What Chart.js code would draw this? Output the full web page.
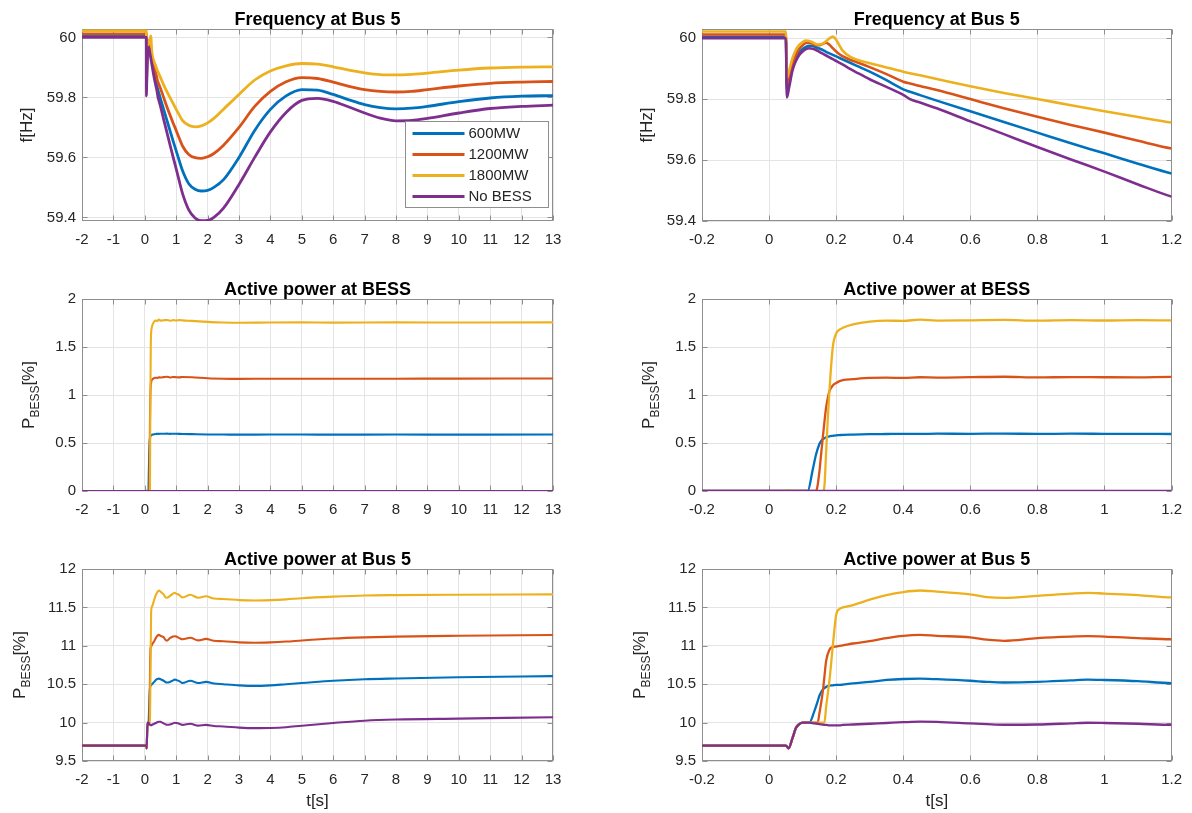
<!DOCTYPE html>
<html>
<head>
<meta charset="utf-8">
<script src="https://cdn.jsdelivr.net/npm/chart.js@4/dist/chart.umd.min.js"></script>
<style>
  html, body { margin: 0; padding: 0; background: #fff; }
  #fig { position: relative; width: 1192px; height: 813px; overflow: hidden; background: #fff; }
  #fig canvas { position: absolute; }
</style>
</head>
<body>
<div id="fig"></div>
<script>
// ---------------- series ----------------
const seriesNames  = ['600MW', '1200MW', '1800MW', 'No BESS'];
const seriesColors = ['#0072BD', '#D95319', '#EDB120', '#7E2F8E'];

// ---------------- frequency at bus 5 [Hz] ----------------
const tFreq = [
  -2, 0.05, 0.053, 0.06, 0.07, 0.08, 0.09, 0.1, 0.11, 0.12,
  0.13, 0.14, 0.15, 0.16, 0.17, 0.18, 0.19, 0.2, 0.21, 0.22,
  0.24, 0.26, 0.3, 0.35, 0.4, 0.42, 0.45, 0.5, 0.6, 0.7,
  0.8, 0.9, 1.0, 1.1, 1.2, 1.4, 1.6, 1.8, 2.0, 2.2,
  2.5, 3.0, 3.5, 4.0, 4.5, 5.0, 5.5, 6.0, 6.5, 7.0,
  7.5, 8.0, 8.5, 9.0, 10, 11, 12, 13
];
const freq600 = [
  60.004, 60.004, 59.83, 59.86, 59.905, 59.935, 59.953, 59.964, 59.971, 59.975,
  59.974, 59.97, 59.966, 59.961, 59.955, 59.95, 59.945, 59.94, 59.935, 59.93,
  59.92, 59.91, 59.89, 59.862, 59.832, 59.824, 59.813, 59.795, 59.76, 59.725,
  59.69, 59.655, 59.622, 59.588, 59.556, 59.512, 59.494, 59.488, 59.49, 59.50,
  59.525, 59.60, 59.69, 59.76, 59.805, 59.826, 59.824, 59.81, 59.792, 59.776,
  59.766, 59.762, 59.764, 59.77, 59.786, 59.798, 59.804, 59.806
];
const freq1200 = [
  60.012, 60.012, 59.85, 59.875, 59.915, 59.945, 59.965, 59.977, 59.984, 59.985,
  59.981, 59.977, 59.977, 59.981, 59.985, 59.978, 59.967, 59.956, 59.947, 59.94,
  59.93, 59.922, 59.905, 59.882, 59.857, 59.851, 59.843, 59.83, 59.80, 59.77,
  59.742, 59.715, 59.69, 59.663, 59.638, 59.61, 59.599, 59.597, 59.602, 59.613,
  59.64, 59.70, 59.77, 59.82, 59.852, 59.866, 59.863, 59.851, 59.837, 59.826,
  59.82, 59.818, 59.82, 59.826, 59.838, 59.847, 59.851, 59.853
];
const freq1800 = [
  60.022, 60.022, 59.87, 59.895, 59.935, 59.962, 59.978, 59.987, 59.992, 59.991,
  59.986, 59.98, 59.979, 59.982, 59.99, 59.999, 60.005, 59.995, 59.975, 59.958,
  59.94, 59.93, 59.918, 59.904, 59.89, 59.885, 59.878, 59.866, 59.842, 59.82,
  59.80, 59.78, 59.76, 59.741, 59.723, 59.707, 59.702, 59.705, 59.715, 59.73,
  59.76, 59.81, 59.858, 59.888, 59.905, 59.913, 59.911, 59.902, 59.891, 59.882,
  59.876, 59.875, 59.877, 59.881, 59.891, 59.898, 59.901, 59.902
];
const freqNoBess = [
  60.0, 60.0, 59.805, 59.84, 59.895, 59.925, 59.945, 59.956, 59.964, 59.967,
  59.965, 59.961, 59.955, 59.949, 59.943, 59.937, 59.931, 59.925, 59.919, 59.913,
  59.9, 59.888, 59.865, 59.84, 59.814, 59.80, 59.789, 59.77, 59.727, 59.685,
  59.643, 59.602, 59.562, 59.52, 59.48, 59.425, 59.398, 59.389, 59.39, 59.40,
  59.43, 59.51, 59.60, 59.685, 59.75, 59.79, 59.797, 59.787, 59.768, 59.748,
  59.731, 59.722, 59.723, 59.73, 59.748, 59.763, 59.77, 59.774
];

// ---------------- active power at BESS [%] ----------------
const tBess = [
  -2, 0.05, 0.06, 0.07, 0.1, 0.115, 0.13, 0.14, 0.15, 0.155,
  0.16, 0.165, 0.17, 0.175, 0.18, 0.19, 0.2, 0.21, 0.22, 0.25,
  0.3, 0.35, 0.4, 0.45, 0.5, 0.6, 0.7, 0.8, 0.9, 1.0,
  1.1, 1.2, 1.5, 2, 2.5, 3, 4, 5, 6, 8,
  10, 13
];
const bess600 = [
  0, 0, 0, 0, 0, 0, 0.22, 0.38, 0.49, 0.52,
  0.54, 0.55, 0.56, 0.565, 0.57, 0.575, 0.58, 0.582, 0.585, 0.588,
  0.592, 0.594, 0.596, 0.595, 0.597, 0.596, 0.598, 0.595, 0.597, 0.596,
  0.595, 0.594, 0.592, 0.589, 0.588, 0.587, 0.588, 0.588, 0.587, 0.588,
  0.587, 0.588
];
const bess1200 = [
  0, 0, 0, 0, 0, 0, 0, 0, 0.2, 0.38,
  0.55, 0.72, 0.87, 0.97, 1.04, 1.1, 1.125, 1.145, 1.155, 1.165,
  1.178, 1.18, 1.178, 1.185, 1.182, 1.186, 1.19, 1.183, 1.187, 1.185,
  1.184, 1.188, 1.185, 1.175, 1.17, 1.168, 1.17, 1.17, 1.169, 1.17,
  1.171, 1.172
];
const bess1800 = [
  -0.012, -0.012, 0.008, -0.012, -0.012, -0.012, -0.012, -0.012, -0.012, -0.012,
  -0.012, 0.05, 0.4, 0.75, 1.05, 1.5, 1.64, 1.68, 1.7, 1.735,
  1.765, 1.775, 1.772, 1.785, 1.775, 1.778, 1.782, 1.774, 1.78, 1.776,
  1.78, 1.777, 1.772, 1.762, 1.755, 1.752, 1.755, 1.756, 1.754, 1.756,
  1.755, 1.756
];
const bessNoBess = [
  0, 0, 0, 0, 0, 0, 0, 0, 0, 0,
  0, 0, 0, 0, 0, 0, 0, 0, 0, 0,
  0, 0, 0, 0, 0, 0, 0, 0, 0, 0,
  0, 0, 0, 0, 0, 0, 0, 0, 0, 0,
  0, 0
];

// ---------------- active power at bus 5 [%] ----------------
const tBus = [
  -2, 0.05, 0.058, 0.07, 0.08, 0.09, 0.1, 0.12, 0.135, 0.145,
  0.15, 0.16, 0.165, 0.17, 0.18, 0.19, 0.2, 0.21, 0.22, 0.25,
  0.3, 0.35, 0.4, 0.45, 0.5, 0.6, 0.65, 0.7, 0.8, 0.9,
  0.95, 1.0, 1.1, 1.2, 1.45, 1.7, 1.95, 2.2, 2.5, 3,
  3.5, 4, 4.5, 5, 6, 7, 8, 10, 13
];
const bus600 = [
  9.70, 9.70, 9.665, 9.80, 9.93, 9.98, 10.00, 10.00, 10.15, 10.28,
  10.35, 10.43, 10.45, 10.465, 10.48, 10.485, 10.49, 10.49, 10.495, 10.51,
  10.53, 10.555, 10.568, 10.572, 10.565, 10.545, 10.53, 10.522, 10.53, 10.55,
  10.56, 10.555, 10.54, 10.515, 10.545, 10.515, 10.53, 10.51, 10.50, 10.485,
  10.478, 10.485, 10.50, 10.515, 10.545, 10.565, 10.575, 10.59, 10.605
];
const bus1200 = [
  9.70, 9.70, 9.665, 9.80, 9.93, 9.98, 10.00, 10.00, 10.00, 10.00,
  10.12, 10.4, 10.6, 10.8, 10.95, 10.985, 10.99, 11.0, 11.005, 11.03,
  11.06, 11.1, 11.13, 11.142, 11.13, 11.11, 11.08, 11.065, 11.1, 11.12,
  11.125, 11.12, 11.10, 11.085, 11.105, 11.07, 11.09, 11.065, 11.06, 11.045,
  11.04, 11.045, 11.055, 11.07, 11.095, 11.11, 11.12, 11.13, 11.14
];
const bus1800 = [
  9.70, 9.70, 9.665, 9.80, 9.93, 9.98, 10.00, 10.00, 10.00, 10.00,
  10.00, 10.00, 10.00, 10.2, 10.55, 11.0, 11.4, 11.48, 11.5, 11.53,
  11.6, 11.66, 11.7, 11.72, 11.705, 11.67, 11.635, 11.625, 11.65, 11.68,
  11.69, 11.68, 11.66, 11.63, 11.665, 11.625, 11.645, 11.615, 11.61, 11.595,
  11.59, 11.595, 11.605, 11.62, 11.64, 11.655, 11.66, 11.665, 11.67
];
const busNoBess = [
  9.70, 9.70, 9.665, 9.80, 9.93, 9.98, 10.00, 10.00, 9.99, 9.985,
  9.98, 9.975, 9.97, 9.97, 9.965, 9.965, 9.965, 9.965, 9.97, 9.975,
  9.985, 9.995, 10.005, 10.012, 10.01, 9.99, 9.98, 9.972, 9.975, 9.99,
  9.998, 9.995, 9.985, 9.97, 9.985, 9.96, 9.97, 9.955, 9.95, 9.935,
  9.928, 9.93, 9.94, 9.96, 9.995, 10.025, 10.04, 10.052, 10.07
];

// ---------------- tick labels ----------------
const ticksLongTime  = [-2, -1, 0, 1, 2, 3, 4, 5, 6, 7, 8, 9, 10, 11, 12, 13];
const ticksShortTime = [-0.2, 0, 0.2, 0.4, 0.6, 0.8, 1, 1.2];
const ticksFreq = [59.4, 59.6, 59.8, 60];
const ticksBess = [0, 0.5, 1, 1.5, 2];
const ticksBus  = [9.5, 10, 10.5, 11, 11.5, 12];

// ---------------- figure layout ----------------
const FONT = "'Liberation Sans', Arial, Helvetica, sans-serif";
const colX = [0, 596], colW = 596;
const plotLeftIn = [82, 106];     // y-axis band width inside each column canvas
const padRight = [43, 19];
const rowY = [0, 270, 540], rowH = [270, 270, 273];
const padTop = 29, plotH = 192;
const gridColor = '#e4e4e4', boxColor = '#8e8e8e', textColor = '#262626';
const tickFontSize = 15, labelFontSize = 17, titleFontSize = 18, legendFontSize = 15;

const labelF = { main: 'f[Hz]' };
const labelP = { main: 'P', sub: 'BESS', tail: '[%]' };

const panels = [
  { col: 0, row: 0, title: 'Frequency at Bus 5', ylabel: labelF, t: tFreq,
    v: [freq600, freq1200, freq1800, freqNoBess], xr: [-2, 13], xt: ticksLongTime,
    yr: [59.388, 60.028], yt: ticksFreq, lw: 2.8, legend: true },
  { col: 1, row: 0, title: 'Frequency at Bus 5', ylabel: labelF, t: tFreq,
    v: [freq600, freq1200, freq1800, freqNoBess], xr: [-0.2, 1.2], xt: ticksShortTime,
    yr: [59.4, 60.03], yt: ticksFreq, lw: 2.6 },
  { col: 0, row: 1, title: 'Active power at BESS', ylabel: labelP, t: tBess,
    v: [bess600, bess1200, bess1800, bessNoBess], xr: [-2, 13], xt: ticksLongTime,
    yr: [0, 2], yt: ticksBess, lw: 2.1 },
  { col: 1, row: 1, title: 'Active power at BESS', ylabel: labelP, t: tBess,
    v: [bess600, bess1200, bess1800, bessNoBess], xr: [-0.2, 1.2], xt: ticksShortTime,
    yr: [0, 2], yt: ticksBess, lw: 2.3 },
  { col: 0, row: 2, title: 'Active power at Bus 5', ylabel: labelP, xlabel: 't[s]', t: tBus,
    v: [bus600, bus1200, bus1800, busNoBess], xr: [-2, 13], xt: ticksLongTime,
    yr: [9.5, 12], yt: ticksBus, lw: 2.1 },
  { col: 1, row: 2, title: 'Active power at Bus 5', ylabel: labelP, xlabel: 't[s]', t: tBus,
    v: [bus600, bus1200, bus1800, busNoBess], xr: [-0.2, 1.2], xt: ticksShortTime,
    yr: [9.5, 12], yt: ticksBus, lw: 2.3 }
];

const fmtTick = v => String(Math.round(v * 100) / 100);

// Box, inward tick marks, title, axis labels and legend in the style of a MATLAB axes
function axesDecor(p) {
  return {
    id: 'axesDecor',
    beforeDatasetsDraw(chart) {
      const { ctx, chartArea: a } = chart;
      const xs = chart.scales.x, ys = chart.scales.y;
      const L = Math.round(a.left) + 0.5, R = Math.round(a.right) - 0.5;
      const T = Math.round(a.top) + 0.5, B = Math.round(a.bottom) - 0.5;
      const tl = 5;
      ctx.save();
      ctx.strokeStyle = boxColor;
      ctx.lineWidth = 1;
      ctx.beginPath();
      xs.ticks.forEach(tk => {
        const px = Math.round(xs.getPixelForValue(tk.value)) + 0.5;
        ctx.moveTo(px, B); ctx.lineTo(px, B - tl);
        ctx.moveTo(px, T); ctx.lineTo(px, T + tl);
      });
      ys.ticks.forEach(tk => {
        const py = Math.round(ys.getPixelForValue(tk.value)) + 0.5;
        ctx.moveTo(L, py); ctx.lineTo(L + tl, py);
        ctx.moveTo(R, py); ctx.lineTo(R - tl, py);
      });
      ctx.stroke();
      ctx.strokeRect(L, T, R - L, B - T);
      ctx.restore();
    },
    afterDraw(chart) {
      const { ctx, chartArea: a } = chart;
      const ys = chart.scales.y;
      const cx = (a.left + a.right) / 2, cy = (a.top + a.bottom) / 2;
      ctx.save();

      // title
      ctx.fillStyle = '#000';
      ctx.font = `bold ${titleFontSize}px ${FONT}`;
      ctx.textAlign = 'center';
      ctx.textBaseline = 'alphabetic';
      ctx.fillText(p.title, cx, a.top - 4.5);

      // y label, placed just outside the widest tick label
      ctx.font = `${tickFontSize}px ${FONT}`;
      const tw = Math.max(...ys.ticks.map(tk => ctx.measureText(tk.label).width));
      const tickLeft = a.left - 6 - tw;
      const lab = p.ylabel;
      const bx = tickLeft - (lab.sub ? 21.5 : 15);
      const mainFont = `${labelFontSize}px ${FONT}`;
      const subFont = `${Math.round(labelFontSize * 0.72)}px ${FONT}`;
      ctx.font = mainFont; const w1 = ctx.measureText(lab.main).width;
      let w2 = 0, w3 = 0;
      if (lab.sub) {
        ctx.font = subFont; w2 = ctx.measureText(lab.sub).width;
        ctx.font = mainFont; w3 = ctx.measureText(lab.tail).width;
      }
      const W = w1 + w2 + w3;
      ctx.translate(bx, cy);
      ctx.rotate(-Math.PI / 2);
      ctx.fillStyle = textColor;
      ctx.textAlign = 'left';
      ctx.font = mainFont; ctx.fillText(lab.main, -W / 2, 0);
      if (lab.sub) {
        ctx.font = subFont; ctx.fillText(lab.sub, -W / 2 + w1, 5);
        ctx.font = mainFont; ctx.fillText(lab.tail, -W / 2 + w1 + w2, 0);
      }
      ctx.setTransform(1, 0, 0, 1, 0, 0);

      // x label
      if (p.xlabel) {
        ctx.font = mainFont;
        ctx.textAlign = 'center';
        ctx.fillText(p.xlabel, cx, a.bottom + 45);
      }

      // legend
      if (p.legend) {
        const lx = Math.round(a.right) - 148 + 0.5, ly = Math.round(a.top) + 92 + 0.5;
        const lw = 143, lh = 86;
        ctx.fillStyle = '#fff';
        ctx.fillRect(lx, ly, lw, lh);
        ctx.strokeStyle = boxColor;
        ctx.lineWidth = 1;
        ctx.strokeRect(lx, ly, lw, lh);
        ctx.font = `${legendFontSize}px ${FONT}`;
        ctx.textAlign = 'left';
        ctx.textBaseline = 'middle';
        chart.data.datasets.forEach((ds, i) => {
          const yy = ly + 12 + 21 * i;
          ctx.strokeStyle = ds.borderColor;
          ctx.lineWidth = p.lw;
          ctx.beginPath();
          ctx.moveTo(lx + 7, yy); ctx.lineTo(lx + 59, yy);
          ctx.stroke();
          ctx.fillStyle = textColor;
          ctx.fillText(ds.label, lx + 63, yy + 0.5);
        });
      }
      ctx.restore();
    }
  };
}

const fig = document.getElementById('fig');

panels.forEach(p => {
  const canvas = document.createElement('canvas');
  canvas.width = colW;
  canvas.height = rowH[p.row];
  canvas.style.left = colX[p.col] + 'px';
  canvas.style.top = rowY[p.row] + 'px';
  fig.appendChild(canvas);

  const datasets = seriesNames.map((name, i) => ({
    label: name,
    data: p.t.map((t, j) => ({ x: t, y: p.v[i][j] })),
    borderColor: seriesColors[i],
    backgroundColor: seriesColors[i],
    borderWidth: p.lw,
    pointRadius: 0,
    fill: false,
    cubicInterpolationMode: 'monotone',
    order: seriesNames.length - i
  }));

  const xH = rowH[p.row] - padTop - plotH;

  new Chart(canvas, {
    type: 'line',
    data: { datasets },
    options: {
      responsive: false,
      animation: false,
      devicePixelRatio: 1,
      layout: { padding: { top: padTop, right: padRight[p.col], bottom: 0, left: 0 } },
      plugins: { legend: { display: false }, tooltip: { enabled: false }, title: { display: false } },
      scales: {
        x: {
          type: 'linear',
          min: p.xr[0], max: p.xr[1],
          afterBuildTicks: s => { s.ticks = p.xt.map(v => ({ value: v })); },
          afterFit: s => { s.height = xH; },
          grid: { color: gridColor, drawTicks: false },
          border: { display: false },
          ticks: {
            padding: 10, maxRotation: 0, autoSkip: false, color: textColor,
            font: { family: FONT, size: tickFontSize }, callback: v => fmtTick(v)
          }
        },
        y: {
          type: 'linear',
          min: p.yr[0], max: p.yr[1],
          afterBuildTicks: s => { s.ticks = p.yt.map(v => ({ value: v })); },
          afterFit: s => { s.width = plotLeftIn[p.col]; },
          grid: { color: gridColor, drawTicks: false },
          border: { display: false },
          ticks: {
            padding: 6, autoSkip: false, color: textColor,
            font: { family: FONT, size: tickFontSize }, callback: v => fmtTick(v)
          }
        }
      }
    },
    plugins: [axesDecor(p)]
  });
});
</script>
</body>
</html>
